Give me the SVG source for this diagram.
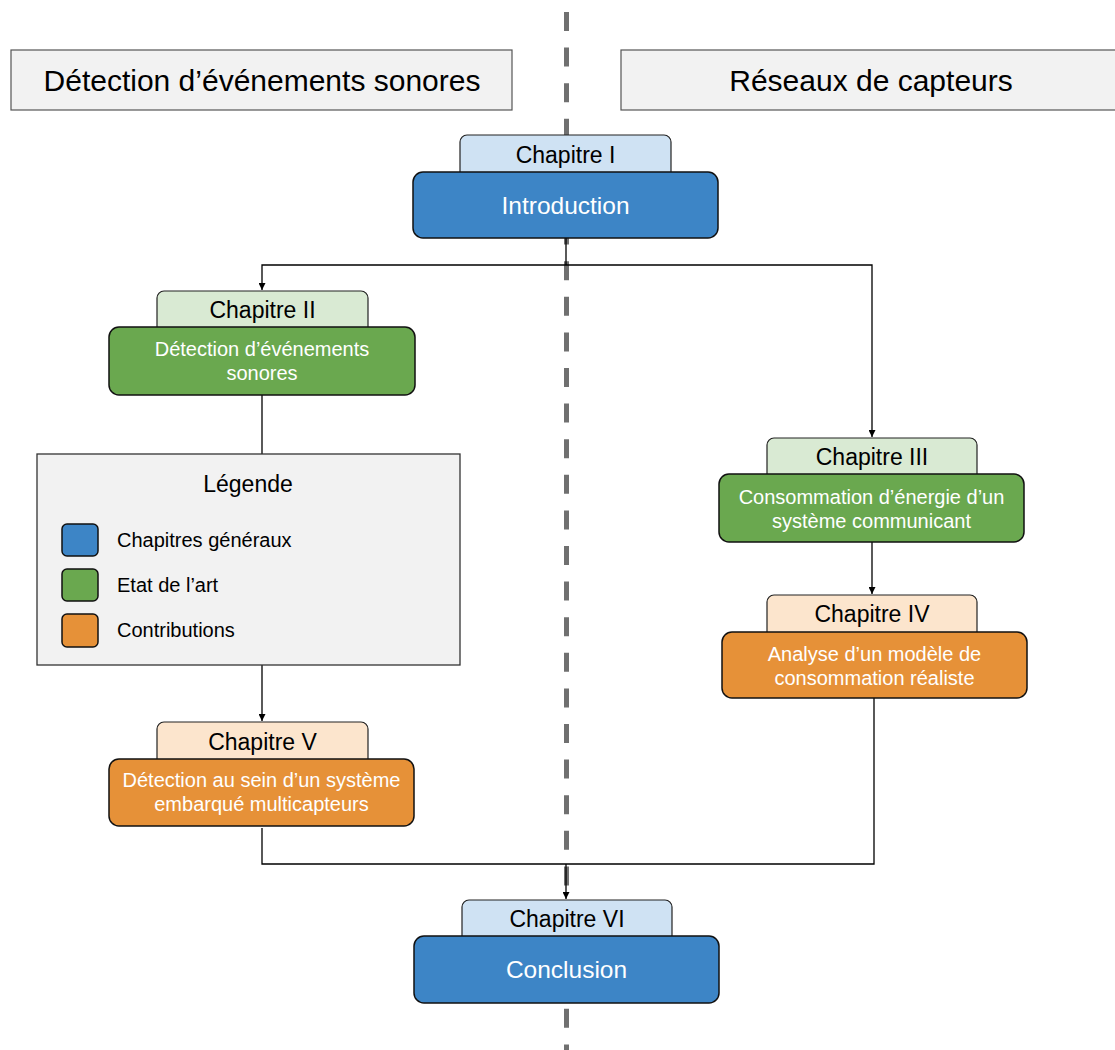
<svg xmlns="http://www.w3.org/2000/svg" width="1115" height="1050" viewBox="0 0 1115 1050">
<style>
text{font-family:"Liberation Sans",Arial,sans-serif;text-anchor:middle}
.hdr{fill:#f2f2f2;stroke:#555;stroke-width:1.2}
.ht{font-size:30px;fill:#000}
.tab{stroke:#222;stroke-width:1.2}
.tt{font-size:23px;fill:#000}
.box{stroke:#111;stroke-width:1.5}
.bt{font-size:20px;fill:#fff}
.big{font-size:24.5px;fill:#fff}
.blue{fill:#3d85c6}.lblue{fill:#cfe2f3}
.green{fill:#6aa84f}.lgreen{fill:#d9ead3}
.orange{fill:#e69138}.lorange{fill:#fce5cd}
.conn{fill:none;stroke:#000;stroke-width:1.3}
.lt{font-size:20px;fill:#000;text-anchor:start}
</style>
<defs>
<marker id="arr" viewBox="0 0 10 10" refX="10" refY="5" markerWidth="7" markerHeight="7" markerUnits="userSpaceOnUse" orient="auto">
<path d="M0,0 L10,5 L0,10 z" fill="#000"/>
</marker>
</defs>
<rect width="1115" height="1050" fill="#fff"/>
<line id="divider" x1="566.5" y1="12" x2="566.5" y2="1050" stroke="#707070" stroke-width="5" stroke-dasharray="19 16.6"/>
<g id="header-left"><rect class="hdr" x="11" y="50" width="501" height="60"/><text class="ht" x="262" y="91">Détection d’événements sonores</text></g>
<g id="header-right"><rect class="hdr" x="621" y="50" width="500" height="60"/><text class="ht" x="871" y="91">Réseaux de capteurs</text></g>
<g id="connectors">
<polyline class="conn" points="566,238 566,265"/>
<polyline class="conn" points="566,265 262,265 262,290" marker-end="url(#arr)"/>
<polyline class="conn" points="566,265 872,265 872,437" marker-end="url(#arr)"/>
<polyline class="conn" points="262,395 262,454"/>
<polyline class="conn" points="262,665 262,721" marker-end="url(#arr)"/>
<polyline class="conn" points="872,542 872,594" marker-end="url(#arr)"/>
<polyline class="conn" points="262,828 262,864 566,864"/>
<polyline class="conn" points="874,698 874,864 566,864"/>
<polyline class="conn" points="566,864 566,899" marker-end="url(#arr)"/>
</g>
<g id="ch1">
<rect class="tab lblue" x="460" y="135" width="211" height="45" rx="7"/>
<rect class="box blue" x="413" y="172" width="305" height="66" rx="10"/>
<text class="tt" x="565.5" y="163">Chapitre I</text>
<text class="big" x="565.5" y="214">Introduction</text>
</g>
<g id="ch2">
<rect class="tab lgreen" x="157" y="291" width="211" height="45" rx="7"/>
<rect class="box green" x="109" y="327" width="306" height="68" rx="10"/>
<text class="tt" x="262.5" y="318">Chapitre II</text>
<text class="bt" x="262" y="356">Détection d’événements</text>
<text class="bt" x="262" y="380">sonores</text>
</g>
<g id="legend">
<rect x="37" y="454" width="423" height="211" fill="#f2f2f2" stroke="#333" stroke-width="1.3"/>
<text x="248" y="492" font-size="23px" fill="#000">Légende</text>
<rect class="box blue" x="62" y="524" width="36" height="32" rx="5"/>
<rect class="box green" x="62" y="569" width="36" height="32" rx="5"/>
<rect class="box orange" x="62" y="614" width="36" height="33" rx="5"/>
<text class="lt" x="117" y="547">Chapitres généraux</text>
<text class="lt" x="117" y="592">Etat de l’art</text>
<text class="lt" x="117" y="637">Contributions</text>
</g>
<g id="ch3">
<rect class="tab lgreen" x="767" y="438" width="210" height="45" rx="7"/>
<rect class="box green" x="719" y="474" width="305" height="68" rx="10"/>
<text class="tt" x="872" y="465">Chapitre III</text>
<text class="bt" x="871.5" y="504">Consommation d’énergie d’un</text>
<text class="bt" x="871.5" y="528">système communicant</text>
</g>
<g id="ch4">
<rect class="tab lorange" x="767" y="595" width="210" height="45" rx="7"/>
<rect class="box orange" x="722" y="632" width="305" height="66" rx="10"/>
<text class="tt" x="872" y="622">Chapitre IV</text>
<text class="bt" x="874.5" y="661">Analyse d’un modèle de</text>
<text class="bt" x="874.5" y="685">consommation réaliste</text>
</g>
<g id="ch5">
<rect class="tab lorange" x="157" y="722" width="211" height="45" rx="7"/>
<rect class="box orange" x="109" y="759" width="305" height="67" rx="10"/>
<text class="tt" x="262.5" y="750">Chapitre V</text>
<text class="bt" x="261.5" y="787">Détection au sein d’un système</text>
<text class="bt" x="261.5" y="811">embarqué multicapteurs</text>
</g>
<g id="ch6">
<rect class="tab lblue" x="462" y="900" width="210" height="45" rx="7"/>
<rect class="box blue" x="414" y="936" width="305" height="67" rx="10"/>
<text class="tt" x="567" y="927">Chapitre VI</text>
<text class="big" x="566.5" y="978">Conclusion</text>
</g>
</svg>
